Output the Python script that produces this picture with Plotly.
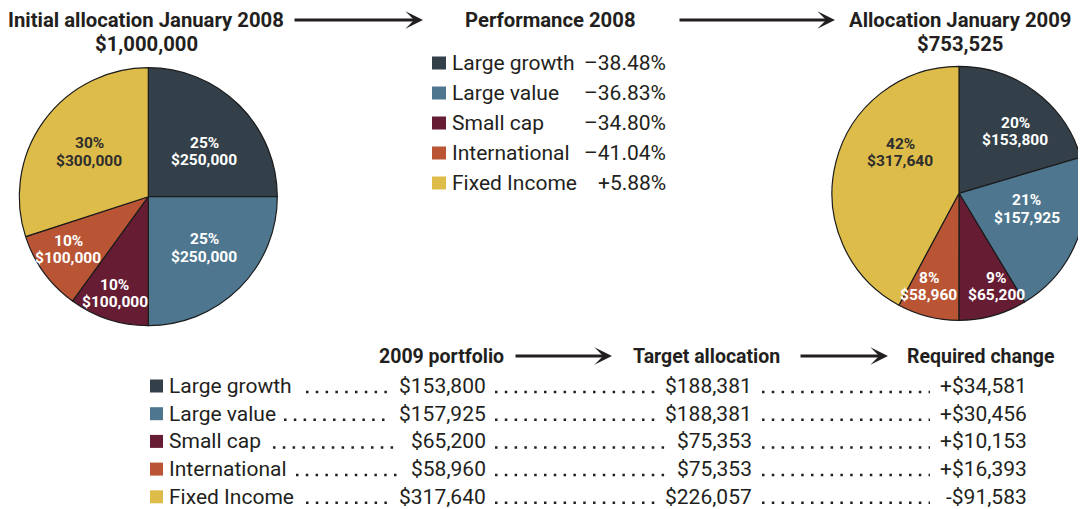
import plotly.graph_objects as go

OFF = 8  # page body margin of the browser: the figure starts 8px in from the top-left corner
W, H = 1086 - OFF, 509 - OFF  # figure fills the rest of the window

# ---------------- data ----------------
categories = ["Large growth", "Large value", "Small cap", "International", "Fixed Income"]
colors = ["#333f49", "#4e778f", "#661d34", "#b95534", "#debc49"]
slice_text_colors = ["#ffffff", "#ffffff", "#ffffff", "#ffffff", "#2e2e2e"]
initial_2008 = [250000, 250000, 100000, 100000, 300000]
returns_2008 = [-38.48, -36.83, -34.80, -41.04, 5.88]
portfolio_2009 = [153800, 157925, 65200, 58960, 317640]
target_2009 = [188381, 188381, 75353, 75353, 226057]
change_2009 = [34581, 30456, 10153, 16393, -91583]

title_left = ["Initial allocation January 2008", "$1,000,000"]
title_mid = "Performance 2008"
title_right = ["Allocation January 2009", "$753,525"]
table_headers = ["2009 portfolio", "Target allocation", "Required change"]

INK = "#231f20"
FONT = "Roboto"

# ---------------- layout constants (screen pixels) ----------------
LEFT_PIE = dict(cx=148.3, cy=196.7, r=129)
RIGHT_PIE = dict(cx=959, cy=193.3, r=127)
# label centres relative to the pie centre
LEFT_LABEL_OFFSETS = [(56, -45), (56, 51.5), (-33.5, 97), (-80, 53), (-59, -44.5)]
RIGHT_LABEL_OFFSETS = [(56, -62), (67.7, 15.7), (37, 93), (-30.3, 93), (-58.7, -41)]
# dotted leader segments per table row: (start, end) in x pixels
LEADERS = [
    [(306, 388), (495, 655), (762, 930)],
    [(284, 388), (495, 655), (762, 930)],
    [(273, 399), (495, 665), (762, 930)],
    [(296, 399), (495, 665), (762, 930)],
    [(306, 388), (495, 655), (762, 930)],
]


def px(x):
    return (x - OFF) / W


def py(y):
    return 1 - (y - OFF) / H


fig = go.Figure()
annotations = []
shapes = []


def text(x, y, s, size=21, bold=False, anchor="left", color=INK):
    annotations.append(dict(
        x=px(x), y=py(y), xref="paper", yref="paper", text=s, showarrow=False,
        xanchor=anchor, yanchor="middle", borderpad=0, borderwidth=0,
        font=dict(family=FONT, size=size, color=color, weight="bold" if bold else "normal"),
    ))


def arrow(x_from, x_to, y):
    annotations.append(dict(
        x=px(x_to), y=py(y), xref="paper", yref="paper", text="",
        showarrow=True, ax=-(x_to - x_from), ay=0, axref="pixel", ayref="pixel",
        arrowhead=3, arrowsize=1.05, arrowwidth=2.8, arrowcolor=INK, standoff=0,
    ))


def add_pie(values, geo, offsets):
    cx, cy, r = geo["cx"], geo["cy"], geo["r"]
    fig.add_trace(go.Pie(
        labels=categories, values=values, sort=False, direction="clockwise", rotation=0,
        marker=dict(colors=colors, line=dict(color="#1b1b1b", width=1.2)),
        textinfo="none",
        domain=dict(x=[max(px(cx - r), 0), min(px(cx + r), 1)],
                    y=[max(py(cy + r), 0), min(py(cy - r), 1)]),
        showlegend=False, hoverinfo="label+value+percent",
    ))
    total = sum(values)
    for v, (dx, dy), col in zip(values, offsets, slice_text_colors):
        text(cx + dx, cy + dy - 8.75, f"{round(100 * v / total)}%", size=15.5, bold=True,
             anchor="center", color=col)
        text(cx + dx, cy + dy + 8.75, f"${v:,}", size=15.5, bold=True,
             anchor="center", color=col)


add_pie(initial_2008, LEFT_PIE, LEFT_LABEL_OFFSETS)
add_pie(portfolio_2009, RIGHT_PIE, RIGHT_LABEL_OFFSETS)

# titles
text(146, 20, title_left[0], size=20.3, bold=True, anchor="center")
text(146, 44, title_left[1], size=20.3, bold=True, anchor="center")
text(550, 20, title_mid, size=20.3, bold=True, anchor="center")
text(960, 20, title_right[0], size=20.3, bold=True, anchor="center")
text(960, 44, title_right[1], size=20.3, bold=True, anchor="center")
arrow(293, 423, 20)
arrow(678, 835, 20)

# performance list
perf_y0, perf_dy = 63, 30
for i, (cat, r) in enumerate(zip(categories, returns_2008)):
    yc = perf_y0 + i * perf_dy
    shapes.append(dict(type="rect", xref="paper", yref="paper",
                       x0=px(432), x1=px(446), y0=py(yc + 6.5), y1=py(yc - 6.5),
                       fillcolor=colors[i], line=dict(width=0)))
    text(452, yc, cat)
    sign = "+" if r > 0 else "\u2013"
    text(666, yc, f"{sign}{abs(r):.2f}%", anchor="right")

# table headers
text(504, 356, table_headers[0], size=19.5, bold=True, anchor="right")
arrow(514, 612, 356)
text(633, 356, table_headers[1], size=19.5, bold=True, anchor="left")
arrow(799, 888, 356)
text(1055, 356, table_headers[2], size=19.5, bold=True, anchor="right")

# table rows
tab_y0, tab_dy = 386, 27.7
for i, cat in enumerate(categories):
    yc = tab_y0 + i * tab_dy
    for x0, x1 in LEADERS[i]:
        shapes.append(dict(type="line", xref="paper", yref="paper",
                           x0=px(x0), x1=px(x1), y0=py(yc + 6), y1=py(yc + 6),
                           line=dict(color=INK, width=2.5, dash="2.5px,7.3px")))
    shapes.append(dict(type="rect", xref="paper", yref="paper",
                       x0=px(150), x1=px(163), y0=py(yc + 6.5), y1=py(yc - 6.5),
                       fillcolor=colors[i], line=dict(width=0)))
    text(169, yc, cat)
    text(486, yc, f"${portfolio_2009[i]:,}", anchor="right")
    text(752, yc, f"${target_2009[i]:,}", anchor="right")
    c = change_2009[i]
    text(1027, yc, f"{'+' if c >= 0 else '-'}${abs(c):,}", anchor="right")

fig.update_layout(
    width=W, height=H, margin=dict(l=0, r=0, t=0, b=0),
    paper_bgcolor="white", plot_bgcolor="white",
    annotations=annotations, shapes=shapes,
    font=dict(family=FONT, color=INK),
)

fig.write_html("out.html")
